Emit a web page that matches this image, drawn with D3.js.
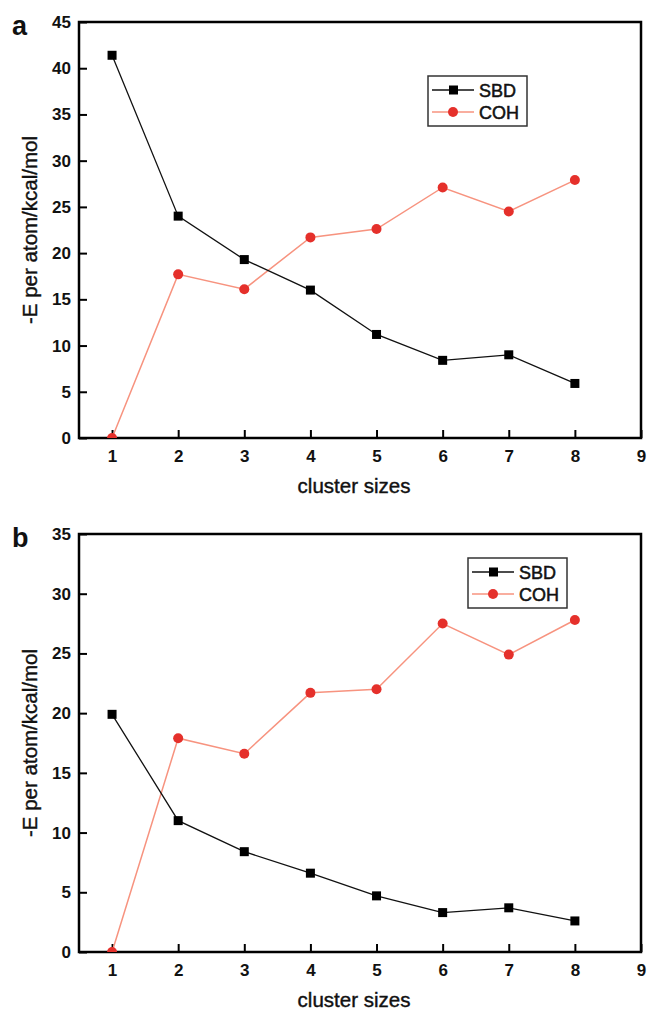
<!DOCTYPE html>
<html>
<head>
<meta charset="utf-8">
<title>Cluster energies</title>
<script src="https://d3js.org/d3.v7.min.js"></script>
<style>
  body { margin: 0; background: #fff; }
  svg text { font-family: "Liberation Sans", Arial, sans-serif; }
</style>
</head>
<body>
<div id="chart"></div>
<script>
// cluster sizes on x
var sizes = [1, 2, 3, 4, 5, 6, 7, 8];
var xTicks = [1, 2, 3, 4, 5, 6, 7, 8, 9];

// panel a
var sbdA = [41.4, 24.0, 19.3, 16.0, 11.2, 8.4, 9.0, 5.9];
var cohA = [0, 17.7, 16.1, 21.7, 22.6, 27.1, 24.5, 27.9];
var yTicksA = [0, 5, 10, 15, 20, 25, 30, 35, 40, 45];

// panel b
var sbdB = [19.9, 11.0, 8.4, 6.6, 4.7, 3.3, 3.7, 2.6];
var cohB = [0, 17.9, 16.6, 21.7, 22.0, 27.5, 24.9, 27.8];
var yTicksB = [0, 5, 10, 15, 20, 25, 30, 35];

var svg = d3.select("#chart").append("svg")
    .attr("width", 647)
    .attr("height", 1013);

function panel(opt) {
  var x = d3.scaleLinear().domain([0.5, 9]).range([opt.left, opt.right]);
  var y = d3.scaleLinear().domain([0, opt.ymax]).range([opt.bottom, opt.top]);
  var g = svg.append("g");

  var clipId = "clip" + opt.label;
  g.append("clipPath").attr("id", clipId)
    .append("rect")
      .attr("x", opt.left).attr("y", opt.top)
      .attr("width", opt.right - opt.left).attr("height", opt.bottom - opt.top);

  // x axis (ticks pointing inside)
  var xa = g.append("g")
      .attr("transform", "translate(0," + opt.bottom + ")")
      .call(d3.axisBottom(x).tickValues(xTicks).tickSizeInner(-8).tickSizeOuter(0).tickPadding(12));
  // y axis
  var ya = g.append("g")
      .attr("transform", "translate(" + opt.left + ",0)")
      .call(d3.axisLeft(y).tickValues(opt.yTicks).tickSizeInner(-8).tickSizeOuter(0).tickPadding(8));
  [xa, ya].forEach(function(a) {
    a.select(".domain").remove();
    a.selectAll("line").attr("stroke", "#000").attr("stroke-width", 2);
    a.selectAll("text").attr("font-size", 17).attr("font-weight", "bold").attr("fill", "#111");
  });

  // frame
  g.append("rect")
    .attr("x", opt.left).attr("y", opt.top)
    .attr("width", opt.right - opt.left).attr("height", opt.bottom - opt.top)
    .attr("fill", "none").attr("stroke", "#000").attr("stroke-width", 2.5);

  var line = d3.line().x(function(d, i) { return x(sizes[i]); }).y(function(d) { return y(d); });
  var plot = g.append("g").attr("clip-path", "url(#" + clipId + ")");

  plot.append("path").datum(opt.coh).attr("d", line)
    .attr("fill", "none").attr("stroke", "#f7937f").attr("stroke-width", 1.5);
  plot.append("path").datum(opt.sbd).attr("d", line)
    .attr("fill", "none").attr("stroke", "#111").attr("stroke-width", 1.3);

  plot.selectAll(".coh").data(opt.coh).enter().append("circle")
    .attr("cx", function(d, i) { return x(sizes[i]); })
    .attr("cy", function(d) { return y(d); })
    .attr("r", 5).attr("fill", "#e5302b");
  plot.selectAll(".sbd").data(opt.sbd).enter().append("rect")
    .attr("x", function(d, i) { return x(sizes[i]) - 4.5; })
    .attr("y", function(d) { return y(d) - 4.5; })
    .attr("width", 9).attr("height", 9).attr("fill", "#000");

  // legend
  var L = opt.legend;
  g.append("rect").attr("x", L.x).attr("y", L.y).attr("width", 99).attr("height", 50)
    .attr("fill", "#fff").attr("stroke", "#333").attr("stroke-width", 1.5);
  var rows = [
    {name: "SBD", color: "#111", dy: 14},
    {name: "COH", color: "#f7937f", dy: 36}
  ];
  rows.forEach(function(r) {
    var yy = L.y + r.dy;
    g.append("line").attr("x1", L.x + 4).attr("x2", L.x + 46).attr("y1", yy).attr("y2", yy)
      .attr("stroke", r.color).attr("stroke-width", 1.3);
    if (r.name === "SBD") {
      g.append("rect").attr("x", L.x + 21).attr("y", yy - 4.5).attr("width", 9).attr("height", 9).attr("fill", "#000");
    } else {
      g.append("circle").attr("cx", L.x + 25).attr("cy", yy).attr("r", 5).attr("fill", "#e5302b");
    }
    g.append("text").attr("x", L.x + 51).attr("y", yy + 6.5).text(r.name)
      .attr("font-size", 18).attr("fill", "#111")
      .attr("stroke", "#111").attr("stroke-width", 0.5);
  });

  // panel letter
  g.append("text").attr("x", 12).attr("y", opt.top + 13).text(opt.label)
    .attr("font-size", 27).attr("font-weight", "bold").attr("fill", "#111");

  // axis titles
  g.append("text")
    .attr("x", (opt.left + opt.right) / 2 - 6).attr("y", opt.bottom + 55)
    .attr("text-anchor", "middle").attr("font-size", 20.5).attr("fill", "#111")
    .attr("stroke", "#111").attr("stroke-width", 0.4)
    .text("cluster sizes");
  g.append("text")
    .attr("transform", "translate(37," + ((opt.top + opt.bottom) / 2) + ") rotate(-90)")
    .attr("text-anchor", "middle").attr("font-size", 20.5).attr("fill", "#111")
    .attr("stroke", "#111").attr("stroke-width", 0.4)
    .text("-E per atom/kcal/mol");
}

panel({label: "a", left: 79, right: 641, top: 22, bottom: 438, ymax: 45,
       yTicks: yTicksA, sbd: sbdA, coh: cohA, legend: {x: 428, y: 76}});
panel({label: "b", left: 79, right: 641, top: 534, bottom: 952, ymax: 35,
       yTicks: yTicksB, sbd: sbdB, coh: cohB, legend: {x: 468, y: 558}});
</script>
</body>
</html>
